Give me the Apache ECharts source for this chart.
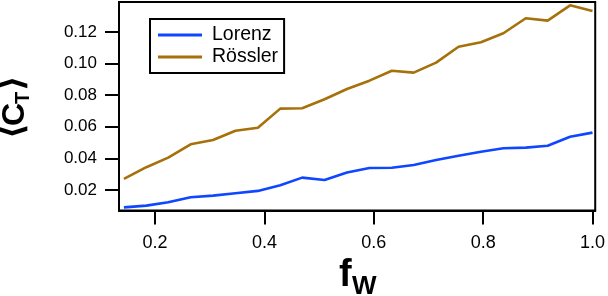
<!DOCTYPE html>
<html><head><meta charset="utf-8">
<script src="https://cdn.jsdelivr.net/npm/echarts@6/dist/echarts.min.js"></script>
<style>html,body{margin:0;padding:0;background:#fff}#c{width:608px;height:296px}</style>
</head><body><div id="c"></div>
<script>
var fw = [0.143,0.184,0.224,0.265,0.306,0.347,0.388,0.429,0.469,0.510,0.551,0.592,0.633,0.673,0.714,0.755,0.796,0.837,0.878,0.918,0.959,1.0];
var lorenz = [0.0090,0.0101,0.0122,0.0154,0.0164,0.0179,0.0194,0.0230,0.0278,0.0263,0.0310,0.0339,0.0341,0.0358,0.0390,0.0417,0.0442,0.0464,0.0468,0.0480,0.0537,0.0563];
var rossler = [0.0270,0.0344,0.0405,0.0489,0.0516,0.0575,0.0594,0.0715,0.0717,0.0774,0.0839,0.0892,0.0955,0.0943,0.1006,0.1107,0.1135,0.1192,0.1287,0.1272,0.1369,0.1333];
var xTicks = [0.2,0.4,0.6,0.8,1.0];
var yTicks = [0.02,0.04,0.06,0.08,0.10,0.12];
var seriesNames = ['Lorenz','Rössler'];

function pairs(xs, ys){ return xs.map(function(x,i){return [x, ys[i]];}); }
var chart = echarts.init(document.getElementById('c'));
var F = 'Liberation Sans';
chart.setOption({
  animation:false,
  grid:{left:119,right:11,top:2,bottom:85.5,show:true,borderColor:'#000',borderWidth:2,containLabel:false},
  xAxis:{type:'value',min:0.134,max:1.005,
    axisLine:{lineStyle:{color:'#000',width:2}},
    axisTick:{show:true,customValues:xTicks,length:14,inside:false,lineStyle:{color:'#000',width:2}},
    axisLabel:{customValues:xTicks,color:'#000',fontFamily:F,fontSize:18,margin:24,formatter:function(v){return v.toFixed(1);}},
    splitLine:{show:false}},
  yAxis:{type:'value',min:0.007,max:0.139,
    axisLine:{lineStyle:{color:'#000',width:2}},
    axisTick:{show:true,customValues:yTicks,length:14,inside:false,lineStyle:{color:'#000',width:2}},
    axisLabel:{customValues:yTicks,color:'#000',fontFamily:F,fontSize:17,margin:22,formatter:function(v){return v.toFixed(2);}},
    splitLine:{show:false}},
  legend:{left:150,top:19,orient:'vertical',data:seriesNames,icon:'rect',itemWidth:44,itemHeight:3,itemGap:2,
    borderColor:'#000',borderWidth:2,padding:[6,6,6,8],
    textStyle:{fontFamily:F,fontSize:19.5,color:'#000',lineHeight:19,padding:[0,0,0,5]}},
  series:[
    {name:seriesNames[0],type:'line',data:pairs(fw,lorenz),symbol:'none',color:'#0f46ff',lineStyle:{width:2.6,color:'#0f46ff'}},
    {name:seriesNames[1],type:'line',data:pairs(fw,rossler),symbol:'none',color:'#a6700a',lineStyle:{width:2.6,color:'#a6700a'}}
  ],
  graphic:[
    {type:'text',left:339,top:257,style:{text:'f',font:'bold 38px "Liberation Sans"',fill:'#000'}},
    {type:'text',left:352,top:274,style:{text:'W',font:'bold 26px "Liberation Sans"',fill:'#000'}},
    {type:'group',x:14,y:107,rotation:Math.PI/2,children:[
      {type:'text',x:-32,y:0,style:{text:'⟨',font:'bold 34px "DejaVu Sans"',fill:'#000',verticalAlign:'middle',align:'left'}},
      {type:'text',x:-19,y:1,style:{text:'C',font:'bold 32px "Liberation Sans"',fill:'#000',verticalAlign:'middle',align:'left'}},
      {type:'text',x:3,y:9,style:{text:'T',font:'bold 20px "Liberation Sans"',fill:'#000',verticalAlign:'middle',align:'left'}},
      {type:'text',x:16,y:0,style:{text:'⟩',font:'bold 34px "DejaVu Sans"',fill:'#000',verticalAlign:'middle',align:'left'}}
    ]}
  ]
});
</script></body></html>
